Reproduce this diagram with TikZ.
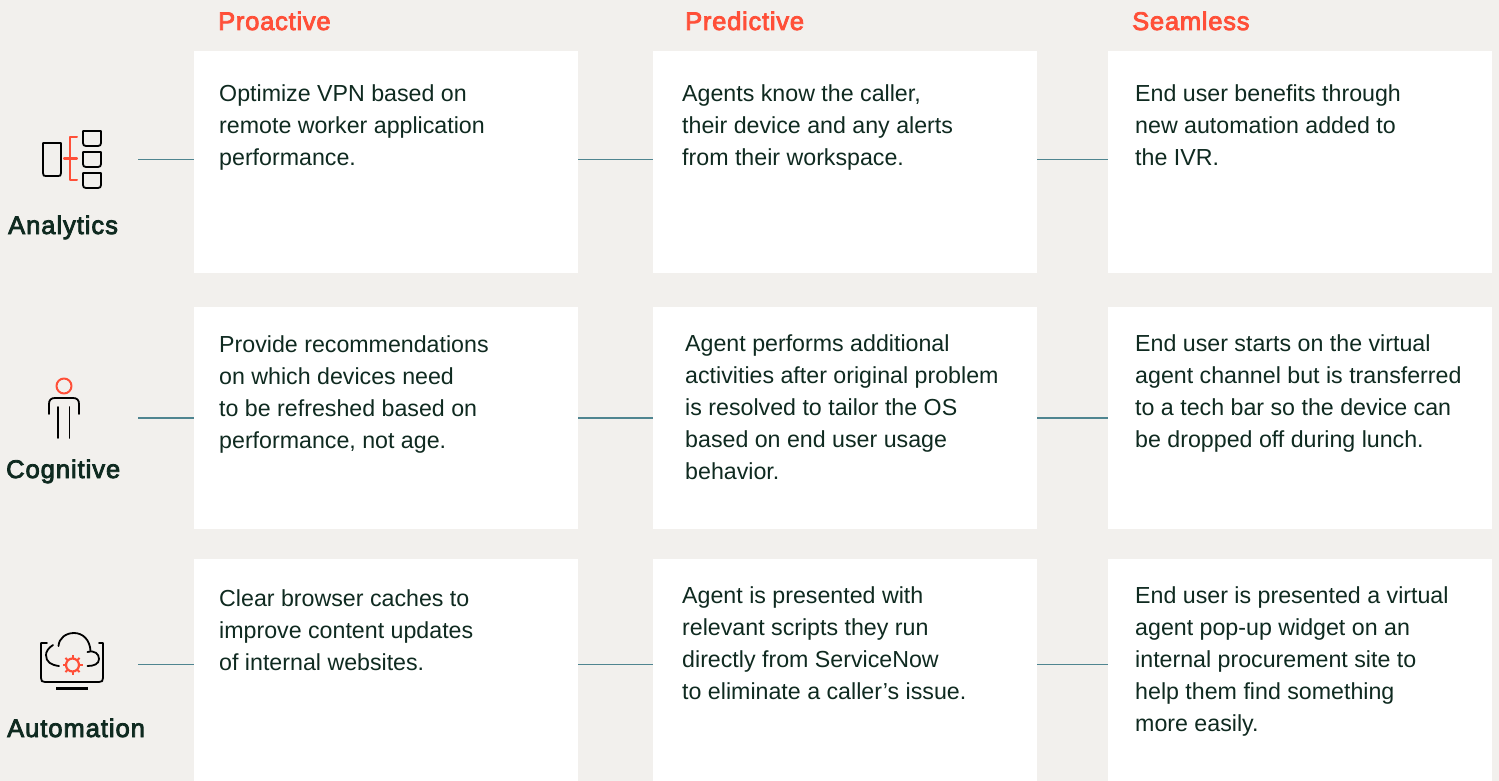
\documentclass[tikz,border=0pt]{standalone}
\usepackage{fontspec}
\setmainfont{Liberation Sans}
\newfontfamily\medhead[FakeBold=3.2,LetterSpace=3]{Liberation Sans}
\newfontfamily\medlab[FakeBold=3.2,LetterSpace=3.8]{Liberation Sans}
\definecolor{bgc}{HTML}{F2F0ED}
\definecolor{ink}{HTML}{0F2A20}
\definecolor{accent}{HTML}{FF4F38}
\definecolor{teal}{HTML}{4F8590}
\newcommand{\fs}{\rule{0pt}{20pt}}
\tikzset{
  card/.style={fill=white,draw=none,inner sep=0,anchor=north west},
  body/.style={anchor=north west,inner sep=0,align=left,text=ink,font=\fontsize{23.2}{32}\selectfont},
  head/.style={anchor=base west,inner sep=0,text=accent,font=\medhead\fontsize{25.5}{28}\selectfont},
  rowlab/.style={anchor=base west,inner sep=0,text=ink,font=\medlab\fontsize{25.5}{28}\selectfont},
  link/.style={draw=teal,line width=1.5pt},
  icon/.style={draw=black,line width=1.8pt,line cap=round,line join=round},
  iconhot/.style={draw=accent,line width=2pt,line cap=round,line join=round}
}
\begin{document}
\begin{tikzpicture}[x=1pt,y=-1pt]
\useasboundingbox (0,0) rectangle (1499,781);
\fill[bgc] (0,0) rectangle (1499,781);
% headers
\node[head] (h1) at (218,30) {Proactive};
\node[head] (h2) at (685,30) {Predictive};
\node[head] (h3) at (1132,30) {Seamless};
% cards
\node[card,minimum width=384pt,minimum height=222pt] (a1) at (194,51) {};
\node[card,minimum width=384pt,minimum height=222pt] (a2) at (653,51) {};
\node[card,minimum width=384pt,minimum height=222pt] (a3) at (1108,51) {};
\node[card,minimum width=384pt,minimum height=222pt] (b1) at (194,307) {};
\node[card,minimum width=384pt,minimum height=222pt] (b2) at (653,307) {};
\node[card,minimum width=384pt,minimum height=222pt] (b3) at (1108,307) {};
\node[card,minimum width=384pt,minimum height=222pt] (c1) at (194,559) {};
\node[card,minimum width=384pt,minimum height=222pt] (c2) at (653,559) {};
\node[card,minimum width=384pt,minimum height=222pt] (c3) at (1108,559) {};
% connectors
\coordinate (sa) at (138,159.5);
\coordinate (sb) at (138,418);
\coordinate (sc) at (138,664.5);
\draw[link] (sa) -- (sa -| a1.west);
\draw[link] (sa -| a1.east) -- (sa -| a2.west);
\draw[link] (sa -| a2.east) -- (sa -| a3.west);
\draw[link] (sb) -- (sb -| b1.west);
\draw[link] (sb -| b1.east) -- (sb -| b2.west);
\draw[link] (sb -| b2.east) -- (sb -| b3.west);
\draw[link] (sc) -- (sc -| c1.west);
\draw[link] (sc -| c1.east) -- (sc -| c2.west);
\draw[link] (sc -| c2.east) -- (sc -| c3.west);
% body text
\node[body] (ta1) at (219,81) {\fs Optimize VPN based on\\remote worker application\\performance.};
\node[body] (ta2) at (682,81) {\fs Agents know the caller,\\their device and any alerts\\from their workspace.};
\node[body] (ta3) at (1135,81) {\fs End user benefits through\\new automation added to\\the IVR.};
\node[body] (tb1) at (219,332) {\fs Provide recommendations\\on which devices need\\to be refreshed based on\\performance, not age.};
\node[body] (tb2) at (685,331) {\fs Agent performs additional\\activities after original problem\\is resolved to tailor the OS\\based on end user usage\\behavior.};
\node[body] (tb3) at (1135,331) {\fs End user starts on the virtual\\agent channel but is transferred\\to a tech bar so the device can\\be dropped off during lunch.};
\node[body] (tc1) at (219,586) {\fs Clear browser caches to\\improve content updates\\of internal websites.};
\node[body] (tc2) at (682,583) {\fs Agent is presented with\\relevant scripts they run\\directly from ServiceNow\\to eliminate a caller’s issue.};
\node[body] (tc3) at (1135,583) {\fs End user is presented a virtual\\agent pop-up widget on an\\internal procurement site to\\help them find something\\more easily.};
% row labels
\node[rowlab] (la) at (8,234) {Analytics};
\node[rowlab] (lb) at (6,478) {Cognitive};
\node[rowlab] (lc) at (7,737) {Automation};
% analytics icon
\draw[icon] (43,143) -- (61,143) -- (61,173) .. controls (61,176) and (60,176) .. (58,176) -- (46,176) .. controls (44,176) and (43,176) .. (43,173) -- cycle;
\draw[icon] (83,131) -- (101,131) -- (101,143) .. controls (101,145) and (100,146) .. (98,146) -- (86,146) .. controls (84,146) and (83,145) .. (83,143) -- cycle;
\draw[icon] (83,152) -- (101,152) -- (101,164) .. controls (101,166) and (100,167) .. (98,167) -- (86,167) .. controls (84,167) and (83,166) .. (83,164) -- cycle;
\draw[icon] (83,173) -- (101,173) -- (101,185) .. controls (101,187) and (100,188) .. (98,188) -- (86,188) .. controls (84,188) and (83,187) .. (83,185) -- cycle;
\draw[iconhot] (77,137) -- (70,137) -- (70,180) -- (77,180);
\draw[iconhot] (64,158.5) -- (77,158.5);
% cognitive icon
\draw[iconhot] (64,386) circle (7.5);
\draw[icon] (49,414) -- (49,404) .. controls (49,400) and (51,398) .. (55,398) -- (73,398) .. controls (77,398) and (79,400) .. (79,404) -- (79,414);
\draw[icon] (58,407) -- (58,438);
\draw[icon] (69.5,407) -- (69.5,438);
% automation icon
\draw[icon] (47,643) -- (41,643) -- (41,678) .. controls (41,681) and (42,682) .. (45,682) -- (99,682) .. controls (102,682) and (103,681) .. (103,678) -- (103,643) -- (99,643);
\draw[line width=2.8pt,draw=black] (56,688.5) -- (88,688.5);
\draw[icon] (53,645) .. controls (48,648) and (46,652) .. (46,655) .. controls (46,662) and (51,665) .. (59,666);
\draw[icon] (58.5,646) .. controls (59,638) and (66,633) .. (74,633) .. controls (83,633) and (90,640) .. (90.5,651);
\draw[icon] (87.5,652) .. controls (95,650) and (99,654) .. (99,659) .. controls (99,664) and (94,666) .. (87.5,666);
\node[draw=accent,circle,line width=2.2pt,minimum size=13pt,inner sep=0] (gear) at (72.5,665) {};
\foreach \a in {0,45,...,315} \draw[accent,line width=2pt] (gear.center) ++(\a:7) -- ++(\a:3);
\end{tikzpicture}
\end{document}
